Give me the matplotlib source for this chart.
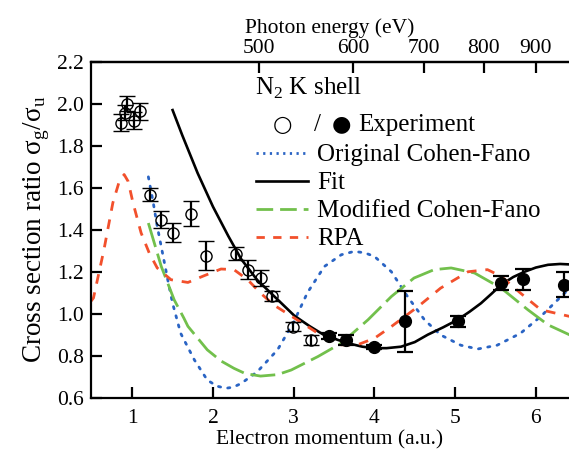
import numpy as np
import matplotlib
matplotlib.use("Agg")
import matplotlib.pyplot as plt
from matplotlib.lines import Line2D

plt.rcParams['font.family'] = ['Liberation Serif', 'DejaVu Sans']
plt.rcParams['mathtext.fontset'] = 'custom'
plt.rcParams['mathtext.rm'] = 'Liberation Serif'

# experiment, open symbols (electron momentum in a.u., ratio, error)
open_k = [0.86, 0.91, 0.94, 1.02, 1.10, 1.215, 1.36, 1.50, 1.73, 1.92, 2.285, 2.44, 2.59, 2.73, 2.99, 3.215]
open_v = [1.91, 1.957, 2.00, 1.92, 1.965, 1.567, 1.448, 1.385, 1.477, 1.276, 1.286, 1.21, 1.17, 1.085, 0.939, 0.875]
open_err = [0.04, 0.035, 0.035, 0.04, 0.04, 0.03, 0.04, 0.045, 0.06, 0.07, 0.03, 0.045, 0.04, 0.025, 0.02, 0.025]

# experiment, filled symbols
filled_k = [3.44, 3.65, 3.99, 4.38, 5.03, 5.57, 5.84, 6.35]
filled_v = [0.894, 0.875, 0.843, 0.963, 0.963, 1.146, 1.165, 1.138]
filled_err = [0.012, 0.025, 0.01, 0.143, 0.024, 0.035, 0.05, 0.06]

# fit
fit_k = [1.50, 1.62, 1.81, 2.00, 2.19, 2.35, 2.55, 2.74, 3.01, 3.20, 3.37, 3.55, 3.71, 3.85, 4.00,
         4.15, 4.33, 4.50, 4.66, 4.85, 5.03, 5.18, 5.32, 5.45, 5.57, 5.72, 5.86, 6.00, 6.15, 6.30, 6.41]
fit_v = [1.97, 1.85, 1.67, 1.51, 1.37, 1.26, 1.16, 1.09, 0.99, 0.94, 0.90, 0.875, 0.856, 0.843, 0.836,
         0.836, 0.843, 0.865, 0.90, 0.935, 0.971, 1.01, 1.05, 1.095, 1.138, 1.175, 1.20, 1.22, 1.233, 1.237, 1.235]

# original Cohen-Fano
cf_k = [1.20, 1.26, 1.31, 1.38, 1.44, 1.50, 1.60, 1.77, 1.93, 2.05, 2.16, 2.25, 2.35, 2.55, 2.80, 3.00,
        3.17, 3.38, 3.59, 3.75, 3.88, 4.00, 4.21, 4.41, 4.62, 4.82, 5.07, 5.28, 5.52, 5.81, 6.06, 6.27, 6.42]
cf_v = [1.652, 1.53, 1.416, 1.28, 1.162, 1.05, 0.907, 0.78, 0.684, 0.655, 0.645, 0.65, 0.668, 0.724, 0.828, 0.96,
        1.10, 1.225, 1.281, 1.297, 1.29, 1.273, 1.20, 1.082, 0.971, 0.899, 0.85, 0.832, 0.85, 0.907, 0.987, 1.066, 1.122]

# modified Cohen-Fano
mcf_k = [1.20, 1.36, 1.52, 1.64, 1.69, 1.93, 2.10, 2.26, 2.40, 2.59, 2.80, 2.97, 3.30, 3.59, 3.92,
         4.21, 4.49, 4.74, 4.95, 5.24, 5.57, 5.90, 6.15, 6.42]
mcf_v = [1.432, 1.225, 1.066, 0.979, 0.94, 0.828, 0.775, 0.74, 0.715, 0.703, 0.71, 0.732, 0.796, 0.86, 0.971,
         1.082, 1.17, 1.21, 1.218, 1.194, 1.122, 1.019, 0.947, 0.899]

# RPA
rpa_k = [0.49, 0.52, 0.65, 0.76, 0.84, 0.90, 0.95, 1.01, 1.11, 1.21, 1.31, 1.48, 1.69, 1.89, 2.10, 2.26,
         2.43, 2.59, 2.76, 3.01, 3.30, 3.59, 3.79, 4.00, 4.21, 4.54, 4.82, 5.16, 5.40, 5.57, 5.81, 6.06, 6.42]
rpa_v = [1.06, 1.075, 1.305, 1.528, 1.631, 1.663, 1.63, 1.528, 1.385, 1.29, 1.218, 1.162, 1.149, 1.181, 1.213, 1.21,
         1.162, 1.098, 1.04, 0.979, 0.907, 0.852, 0.852, 0.883, 0.939, 1.034, 1.122, 1.20, 1.21, 1.178, 1.098, 1.019, 0.987]

energy_ticks = [500, 600, 700, 800, 900]

blue = '#2a64c4'
green = '#72c04c'
red = '#f2502c'

fig = plt.figure(figsize=(5.69, 4.5), dpi=100)
ax = fig.add_axes([0.16, 0.1162, 0.84, 0.7465])

ax.plot(cf_k, cf_v, color=blue, lw=2.0, linestyle=(0, (0.8, 2.6)), dash_capstyle='round')
ax.plot(fit_k, fit_v, color='black', lw=1.9)
ax.plot(mcf_k, mcf_v, color=green, lw=2.0, linestyle=(0, (9, 2.5)))
ax.plot(rpa_k, rpa_v, color=red, lw=2.0, linestyle=(0, (3.5, 3.2)))

ax.errorbar(open_k, open_v, yerr=open_err, fmt='o', mfc='none', mec='black', ms=8, mew=1.0,
            ecolor='black', elinewidth=1.6, capsize=5.5, capthick=1.6)
ax.errorbar(filled_k, filled_v, yerr=filled_err, fmt='o', mfc='black', mec='black', ms=8.5,
            ecolor='black', elinewidth=1.6, capsize=5.5, capthick=1.6)

ax.set_xlim(0.49, 6.41)
ax.set_ylim(0.6, 2.2)
ax.set_xticks([1, 2, 3, 4, 5, 6])
ax.set_yticks(np.arange(0.6, 2.21, 0.2))
ax.yaxis.set_major_formatter(plt.FormatStrFormatter('%.1f'))
ax.tick_params(direction='in', length=8, width=1.6, labelsize=15.5)
ax.tick_params(axis='x', pad=8)
ax.tick_params(axis='y', pad=5)
for s in ['left', 'bottom', 'top']:
    ax.spines[s].set_linewidth(1.6)
ax.spines['right'].set_visible(False)

ax.set_xlabel('Electron momentum (a.u.)', fontsize=15.5, labelpad=2)
ax.set_ylabel('Cross section ratio σ$_\\mathregular{g}$/σ$_\\mathregular{u}$', fontsize=19.5, labelpad=4)


def k_to_energy(k):
    return 410.0 + 13.6057 * np.asarray(k) ** 2


def energy_to_k(e):
    return np.sqrt(np.clip(np.asarray(e) - 410.0, 0, None) / 13.6057)


top = ax.secondary_xaxis('top', functions=(k_to_energy, energy_to_k))
top.set_xticks(energy_ticks)
top.tick_params(direction='in', length=8, width=1.6, labelsize=15.5, pad=3)
top.spines['top'].set_linewidth(1.6)
top.set_xlabel('Photon energy (eV)', fontsize=15.5, labelpad=4)

# legend block
ax.text(0.343, 0.922, 'N$_\\mathregular{2}$ K shell', transform=ax.transAxes, fontsize=18,
        va='center', ha='left')
ax.text(0.401, 0.813, '○', transform=ax.transAxes, fontsize=16, family='DejaVu Sans',
        va='center', ha='center')
ax.text(0.474, 0.813, '/', transform=ax.transAxes, fontsize=18, va='center', ha='center')
ax.text(0.523, 0.813, '●', transform=ax.transAxes, fontsize=16, family='DejaVu Sans',
        va='center', ha='center')
ax.text(0.558, 0.813, 'Experiment', transform=ax.transAxes, fontsize=18, va='center', ha='left')

handles = [
    Line2D([], [], color=blue, lw=2.0, linestyle=(0, (0.8, 1.6))),
    Line2D([], [], color='black', lw=1.9),
    Line2D([], [], color=green, lw=2.0, linestyle=(0, (6, 2.5))),
    Line2D([], [], color=red, lw=2.0, linestyle=(0, (3, 3))),
]
labels = ['Original Cohen-Fano', 'Fit', 'Modified Cohen-Fano', 'RPA']
ax.legend(handles, labels, loc='upper left', bbox_to_anchor=(0.345, 0.756), frameon=False,
          fontsize=18, handlelength=2.1, handletextpad=0.35, labelspacing=0.22,
          borderpad=0, borderaxespad=0)

fig.savefig('out.png', dpi=100)
